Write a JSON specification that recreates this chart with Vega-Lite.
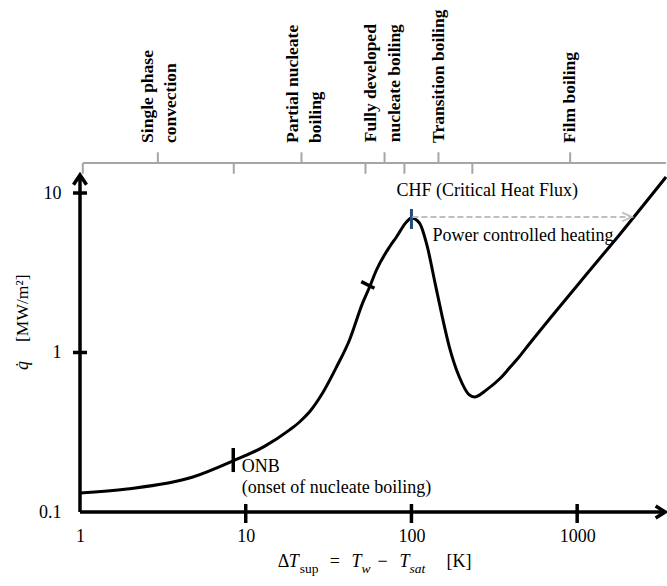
{
  "$schema": "https://vega.github.io/schema/vega-lite/v6.json",
  "width": 586,
  "height": 512,
  "autosize": {"type": "none"},
  "padding": {"left": 80, "top": 0, "right": 1, "bottom": 74},
  "background": "white",
  "config": {"view": {"stroke": null}, "font": "Liberation Serif, Times New Roman, Times, DejaVu Serif, serif", "text": {"font": "Liberation Serif, Times New Roman, Times, DejaVu Serif, serif", "color": "black"}},
  "datasets": {
    "curve": [
      {"x": 1, "y": 0.1316}, {"x": 1.92, "y": 0.1394}, {"x": 4.8, "y": 0.1657}, {"x": 8.35, "y": 0.2088},
      {"x": 12.9, "y": 0.257}, {"x": 18.4, "y": 0.327}, {"x": 21.2, "y": 0.368}, {"x": 24.3, "y": 0.425}, {"x": 29.1, "y": 0.557},
      {"x": 35.3, "y": 0.811}, {"x": 42.3, "y": 1.198}, {"x": 50.7, "y": 2.04}, {"x": 55.9, "y": 2.574},
      {"x": 61.5, "y": 3.29}, {"x": 73.7, "y": 4.59}, {"x": 81.2, "y": 5.3}, {"x": 93.3, "y": 6.58},
      {"x": 100, "y": 6.97}, {"x": 111.7, "y": 6.49}, {"x": 124.8, "y": 4.59}, {"x": 137.6, "y": 2.85},
      {"x": 151.7, "y": 1.77}, {"x": 169.4, "y": 1.082}, {"x": 194.5, "y": 0.702}, {"x": 223.4, "y": 0.542},
      {"x": 239.6, "y": 0.526}, {"x": 285, "y": 0.585}, {"x": 341, "y": 0.684}, {"x": 390, "y": 0.799},
      {"x": 447, "y": 0.94}, {"x": 514, "y": 1.13}, {"x": 706.7, "y": 1.7}, {"x": 1132, "y": 3.07},
      {"x": 1791, "y": 5.44}, {"x": 3436, "y": 12.6}
    ],
    "segments": [
      {"x": 1, "x2": 1, "y": 0.1, "y2": 12.6},
      {"x": 1, "x2": 3350, "y": 0.1, "y2": 0.1},
      {"x": 0.907, "x2": 1.102, "y": 1, "y2": 1},
      {"x": 0.907, "x2": 1.102, "y": 10, "y2": 10},
      {"x": 10, "x2": 10, "y": 0.1122, "y2": 0.0853},
      {"x": 100, "x2": 100, "y": 0.1122, "y2": 0.0853},
      {"x": 1000, "x2": 1000, "y": 0.1122, "y2": 0.0853},
      {"x": 8.41, "x2": 8.41, "y": 0.252, "y2": 0.178},
      {"x": 49.8, "x2": 59.8, "y": 2.78, "y2": 2.53}
    ],
    "brackets": [
      {"x": 1.04, "x2": 3436, "y": 15.42, "y2": 15.42},
      {"x": 1.04, "x2": 1.04, "y": 15.42, "y2": 13.2},
      {"x": 8.47, "x2": 8.47, "y": 15.42, "y2": 13.2},
      {"x": 52.8, "x2": 52.8, "y": 15.42, "y2": 13.2},
      {"x": 90.7, "x2": 90.7, "y": 15.42, "y2": 13.2},
      {"x": 233, "x2": 233, "y": 15.42, "y2": 13.2},
      {"x": 2.95, "x2": 2.95, "y": 15.42, "y2": 18},
      {"x": 21.7, "x2": 21.7, "y": 15.42, "y2": 18},
      {"x": 68.8, "x2": 68.8, "y": 15.42, "y2": 18},
      {"x": 145.5, "x2": 145.5, "y": 15.42, "y2": 18},
      {"x": 907, "x2": 907, "y": 15.42, "y2": 18}
    ],
    "regions": [
      {"label": "Single phase\nconvection", "x": 2.57, "y": 20.6},
      {"label": "Partial nucleate\nboiling", "x": 19.19, "y": 20.6},
      {"label": "Fully developed\nnucleate boiling", "x": 57.4, "y": 20.8},
      {"label": "Transition boiling", "x": 147.5, "y": 20.6},
      {"label": "Film boiling", "x": 907, "y": 20.6}
    ],
    "notes": [
      {"text": "CHF (Critical Heat Flux)", "x": 81.2, "y": 10.3},
      {"text": "Power controlled heating", "x": 133.9, "y": 5.38},
      {"text": "ONB", "x": 9.46, "y": 0.191},
      {"text": "(onset of nucleate boiling)", "x": 9.46, "y": 0.1415}
    ],
    "xtitle": [
      {"text": "Δ", "kind": "symbol", "x": 15.6, "y": 0.0452},
      {"text": "T", "kind": "variable", "x": 18.2, "y": 0.0452},
      {"text": "sup", "kind": "index", "x": 21.2, "y": 0.0415},
      {"text": "=", "kind": "symbol", "x": 32.1, "y": 0.0452},
      {"text": "T", "kind": "variable", "x": 43.5, "y": 0.0452},
      {"text": "w", "kind": "varindex", "x": 50.0, "y": 0.0415},
      {"text": "−", "kind": "symbol", "x": 62.4, "y": 0.0452},
      {"text": "T", "kind": "variable", "x": 84.7, "y": 0.0452},
      {"text": "sat", "kind": "varindex", "x": 97.3, "y": 0.0415},
      {"text": "[K]", "kind": "symbol", "x": 162.5, "y": 0.0452}
    ],
    "ytitle": [
      {"text": "q̇", "kind": "variable", "x": 0.454, "y": 0.777},
      {"text": "[MW/m²]", "kind": "symbol", "x": 0.454, "y": 1.164}
    ]
  },
  "encoding": {
    "x": {
      "field": "x", "type": "quantitative",
      "scale": {"type": "log", "domain": [1, 3436], "nice": false},
      "axis": {"title": null, "values": [1, 10, 100, 1000], "format": "~g", "domain": false, "ticks": false, "tickSize": 0, "grid": false,
               "labelFont": "Liberation Serif, Times New Roman, Times, DejaVu Serif, serif", "labelFontSize": 18, "labelColor": "black", "labelPadding": 15,
               "labelFlush": false, "labelOverlap": false, "labelBound": false}
    },
    "y": {
      "field": "y", "type": "quantitative",
      "scale": {"type": "log", "domain": [0.1, 162.2], "nice": false},
      "axis": {"title": null, "values": [0.1, 1, 10], "format": "~g", "domain": false, "ticks": false, "tickSize": 0, "grid": false,
               "labelFont": "Liberation Serif, Times New Roman, Times, DejaVu Serif, serif", "labelFontSize": 18, "labelColor": "black", "labelPadding": 19,
               "labelFlush": false, "labelOverlap": false, "labelBound": false}
    }
  },
  "layer": [
    {
      "data": {"name": "brackets"},
      "mark": {"type": "rule", "color": "#a6a6a6", "strokeWidth": 2},
      "encoding": {"x2": {"field": "x2"}, "y2": {"field": "y2"}}
    },
    {
      "data": {"name": "regions"},
      "mark": {"type": "text", "angle": 270, "align": "left", "baseline": "middle", "fontWeight": "bold", "fontSize": 17.5, "lineBreak": "\n", "lineHeight": 23.5},
      "encoding": {"text": {"field": "label"}}
    },
    {
      "data": {"name": "curve"},
      "mark": {"type": "line", "color": "black", "strokeWidth": 3, "interpolate": "monotone"}
    },
    {
      "data": {"name": "segments"},
      "mark": {"type": "rule", "color": "black", "strokeWidth": 3.5},
      "encoding": {"x2": {"field": "x2"}, "y2": {"field": "y2"}}
    },
    {
      "data": {"values": [{"x": 100, "y": 7.94, "y2": 5.95}]},
      "mark": {"type": "rule", "color": "#1f4e79", "strokeWidth": 3},
      "encoding": {"y2": {"field": "y2"}}
    },
    {
      "data": {"values": [{"x": 101.4, "x2": 2120, "y": 7.08}]},
      "mark": {"type": "rule", "color": "#bfbfbf", "strokeWidth": 2, "strokeDash": [6, 3]},
      "encoding": {"x2": {"field": "x2"}}
    },
    {
      "data": {"values": [{"x": 2144, "y": 7.08}]},
      "mark": {"type": "point", "shape": "M-2.3,-1L0,0L-2.3,1", "size": 74, "filled": false, "stroke": "#bfbfbf", "strokeWidth": 1.8, "opacity": 1}
    },
    {
      "data": {"values": [{"x": 1, "y": 12.97}]},
      "mark": {"type": "point", "shape": "M-1,1.5L0,0L1,1.5", "size": 169, "filled": false, "stroke": "black", "strokeWidth": 3.5, "opacity": 1}
    },
    {
      "data": {"values": [{"x": 3400, "y": 0.1}]},
      "mark": {"type": "point", "shape": "M-1.6,-1L0,0L-1.6,1", "size": 144, "filled": false, "stroke": "black", "strokeWidth": 3.5, "opacity": 1}
    },
    {
      "data": {"name": "notes"},
      "mark": {"type": "text", "align": "left", "baseline": "middle", "fontSize": 18},
      "encoding": {"text": {"field": "text"}}
    },
    {
      "data": {"name": "xtitle"},
      "transform": [{"filter": "datum.kind === 'symbol'"}],
      "mark": {"type": "text", "align": "left", "baseline": "alphabetic", "fontSize": 18},
      "encoding": {"text": {"field": "text"}}
    },
    {
      "data": {"name": "xtitle"},
      "transform": [{"filter": "datum.kind === 'variable'"}],
      "mark": {"type": "text", "align": "left", "baseline": "alphabetic", "fontSize": 18, "fontStyle": "italic"},
      "encoding": {"text": {"field": "text"}}
    },
    {
      "data": {"name": "xtitle"},
      "transform": [{"filter": "datum.kind === 'index'"}],
      "mark": {"type": "text", "align": "left", "baseline": "alphabetic", "fontSize": 13.5},
      "encoding": {"text": {"field": "text"}}
    },
    {
      "data": {"name": "xtitle"},
      "transform": [{"filter": "datum.kind === 'varindex'"}],
      "mark": {"type": "text", "align": "left", "baseline": "alphabetic", "fontSize": 13.5, "fontStyle": "italic"},
      "encoding": {"text": {"field": "text"}}
    },
    {
      "data": {"name": "ytitle"},
      "transform": [{"filter": "datum.kind === 'variable'"}],
      "mark": {"type": "text", "angle": 270, "align": "left", "baseline": "middle", "fontSize": 18, "fontStyle": "italic"},
      "encoding": {"text": {"field": "text"}}
    },
    {
      "data": {"name": "ytitle"},
      "transform": [{"filter": "datum.kind === 'symbol'"}],
      "mark": {"type": "text", "angle": 270, "align": "left", "baseline": "middle", "fontSize": 17.5},
      "encoding": {"text": {"field": "text"}}
    }
  ]
}
